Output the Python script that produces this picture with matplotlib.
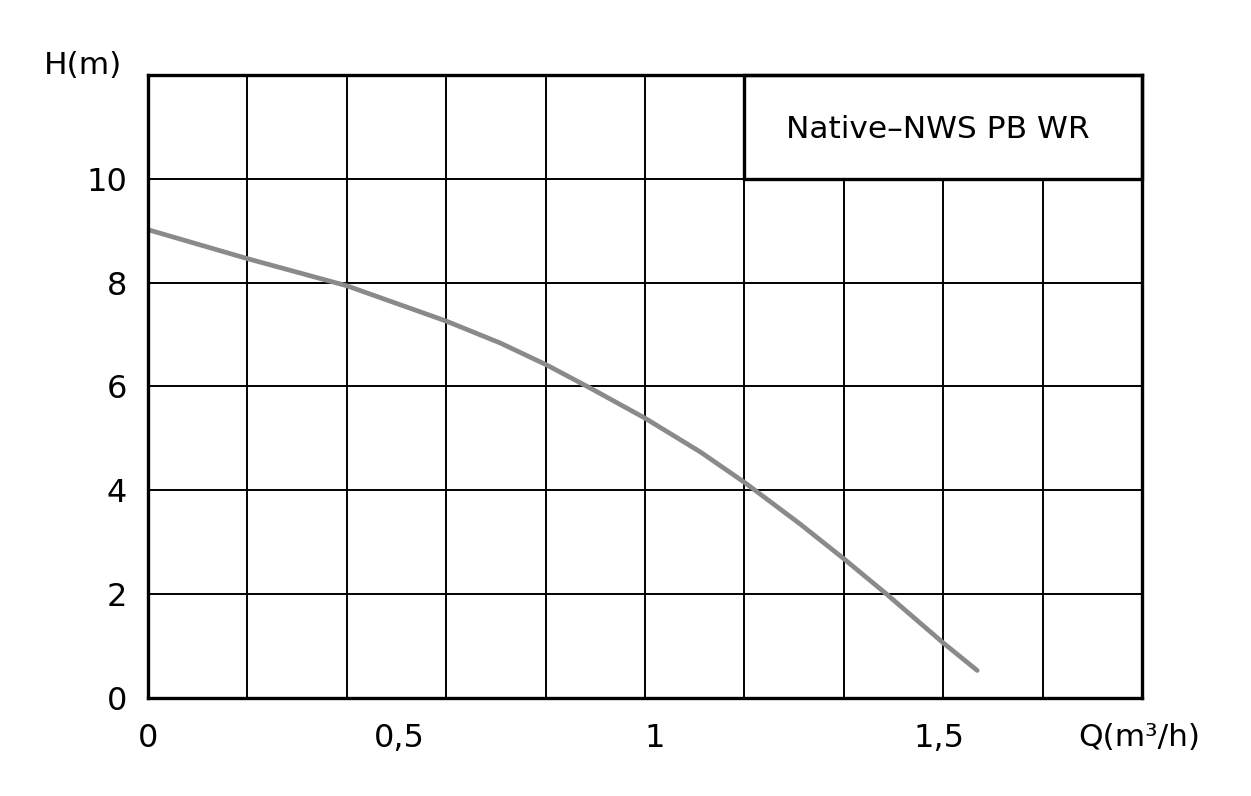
import numpy as np
import matplotlib
matplotlib.use('Agg')
from matplotlib import pyplot as plt
from matplotlib.patches import Rectangle

# pump curve (Q in m3/h, H in m)
flow = [0.0, 0.197, 0.392, 0.588, 0.694, 0.785, 0.872, 0.980,
        1.089, 1.178, 1.286, 1.371, 1.454, 1.567, 1.635]
head = [9.02, 8.46, 7.94, 7.26, 6.84, 6.42, 5.97, 5.39,
        4.74, 4.14, 3.35, 2.69, 2.02, 1.07, 0.53]

x_tick_pos = [0.0, 0.495, 1.0, 1.56]
x_tick_labels = ['0', '0,5', '1', '1,5']
y_ticks = [0, 2, 4, 6, 8, 10]
model_name = 'Native\u2013NWS PB WR'

x_max = 1.96
y_max = 12

plt.rcParams['font.family'] = ['DejaVu Sans']

fig = plt.figure(figsize=(12.51, 7.96), dpi=100)
ax = fig.add_axes([0.1183, 0.1231, 0.7946, 0.7827])

ax.set_xlim(0, x_max)
ax.set_ylim(0, y_max)

# grid: 10 columns, 6 rows
for gx in np.linspace(0, x_max, 11)[1:-1]:
    ax.axvline(gx, color='black', lw=1.4, zorder=1)
for gy in range(2, y_max, 2):
    ax.axhline(gy, color='black', lw=1.4, zorder=1)

ax.plot(flow, head, color='#8a8a8a', lw=3.4, solid_capstyle='round',
        solid_joinstyle='round', zorder=3)

# model name box in the top right corner
box = Rectangle((0.6 * x_max, 10), 0.4 * x_max, 2, facecolor='white',
                edgecolor='black', lw=2.4, zorder=4, clip_on=False)
ax.add_patch(box)
ax.text(0.8 * x_max - 0.01, 10.95, model_name, ha='center', va='center',
        fontsize=22.5, zorder=5)

for s in ax.spines.values():
    s.set_linewidth(2.4)
    s.set_zorder(6)

ax.set_xticks(x_tick_pos, x_tick_labels)
ax.set_yticks(y_ticks, [str(v) for v in y_ticks])
ax.tick_params(axis='both', length=0, labelsize=23)
ax.tick_params(axis='x', pad=18)
ax.tick_params(axis='y', pad=15)

fig.text(0.0665, 0.918, 'H(m)', ha='center', va='center', fontsize=22.5)
fig.text(0.911, 0.074, 'Q(m\u00b3/h)', ha='center', va='center', fontsize=22.5)

fig.savefig('out.png', dpi=100, facecolor='white')
plt.close(fig)
